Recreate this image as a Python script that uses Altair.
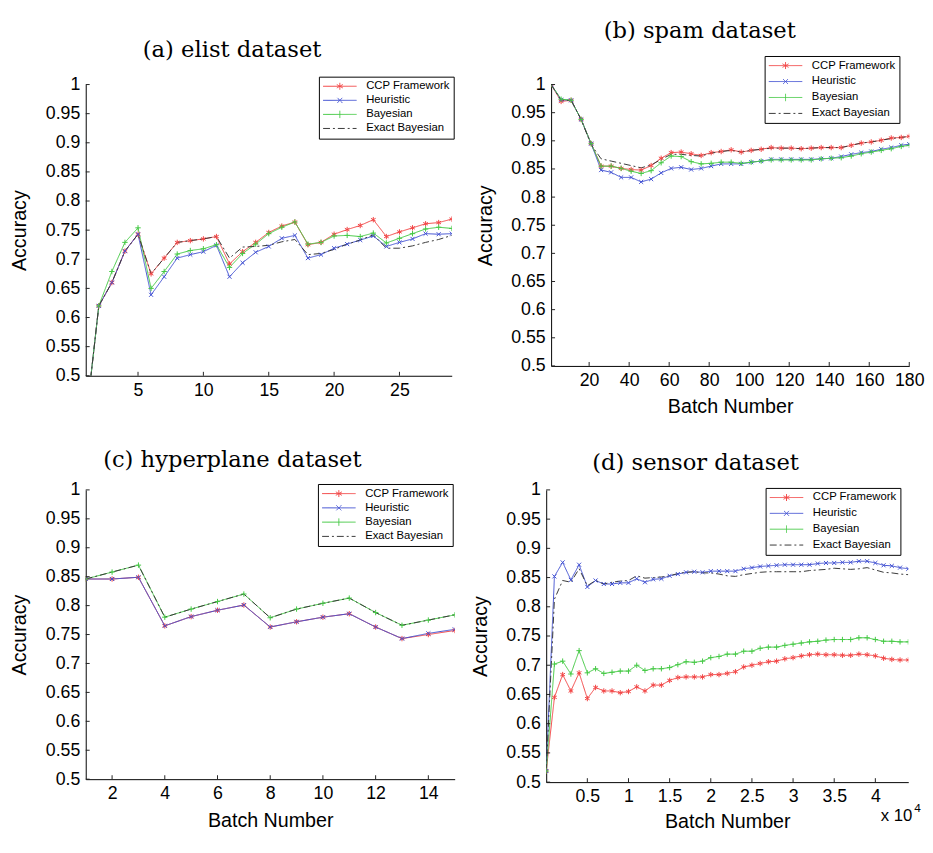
import altair as alt
import pandas as pd

SANS = "Liberation Sans"
SERIF = "DejaVu Serif"

SERIES = ["CCP Framework", "Heuristic", "Bayesian", "Exact Bayesian"]
COLORS = ["#f24444", "#4252d2", "#44c944", "#383838"]
DASHES = [[1, 0], [1, 0], [1, 0], [7, 3, 2, 3]]
Y_TICKS = [0.5, 0.55, 0.6, 0.65, 0.7, 0.75, 0.8, 0.85, 0.9, 0.95, 1.0]

# (a) elist dataset
A_X = list(range(1, 30))
A_CCP = [0.42, 0.620, 0.660, 0.714, 0.743, 0.675, 0.702, 0.729, 0.732, 0.735, 0.739, 0.692, 0.713, 0.729, 0.746,
         0.757, 0.764, 0.725, 0.729, 0.743, 0.751, 0.758, 0.768, 0.739, 0.747, 0.754, 0.761, 0.763, 0.769]
A_HEU = [0.42, 0.620, 0.660, 0.714, 0.743, 0.639, 0.670, 0.702, 0.708, 0.713, 0.724, 0.670, 0.694, 0.712, 0.722,
         0.736, 0.741, 0.702, 0.708, 0.719, 0.726, 0.733, 0.740, 0.722, 0.729, 0.735, 0.744, 0.743, 0.744]
A_BAY = [0.42, 0.620, 0.679, 0.729, 0.754, 0.650, 0.679, 0.709, 0.715, 0.718, 0.725, 0.686, 0.710, 0.726, 0.744,
         0.755, 0.764, 0.726, 0.729, 0.740, 0.741, 0.739, 0.745, 0.728, 0.736, 0.744, 0.752, 0.755, 0.753]
A_EXA = [0.42, 0.620, 0.660, 0.714, 0.743, 0.675, 0.702, 0.729, 0.732, 0.735, 0.739, 0.702, 0.721, 0.722, 0.724,
         0.730, 0.734, 0.708, 0.710, 0.717, 0.726, 0.733, 0.742, 0.719, 0.719, 0.723, 0.729, 0.734, 0.741]
A_XTICKS = [5, 10, 15, 20, 25]

# (b) spam dataset
B_X = list(range(1, 177, 5)) + [180]
B_CCP = [1.0, 0.970, 0.972, 0.938, 0.895, 0.855, 0.855, 0.851, 0.849, 0.848, 0.856, 0.869, 0.879, 0.880, 0.877,
         0.874, 0.879, 0.881, 0.884, 0.880, 0.883, 0.885, 0.888, 0.887, 0.887, 0.886, 0.887, 0.888, 0.888, 0.888,
         0.892, 0.896, 0.898, 0.901, 0.905, 0.906, 0.908]
B_HEU = [1.0, 0.973, 0.972, 0.938, 0.895, 0.848, 0.844, 0.835, 0.835, 0.827, 0.832, 0.843, 0.851, 0.853, 0.849,
         0.851, 0.855, 0.859, 0.859, 0.859, 0.862, 0.864, 0.867, 0.867, 0.867, 0.867, 0.867, 0.868, 0.869, 0.872,
         0.876, 0.879, 0.881, 0.885, 0.888, 0.892, 0.894]
B_BAY = [1.0, 0.974, 0.972, 0.938, 0.895, 0.855, 0.855, 0.851, 0.846, 0.842, 0.847, 0.861, 0.873, 0.872, 0.863,
         0.859, 0.860, 0.862, 0.862, 0.860, 0.862, 0.864, 0.866, 0.866, 0.866, 0.866, 0.866, 0.868, 0.869, 0.870,
         0.873, 0.877, 0.880, 0.883, 0.886, 0.890, 0.892]
B_EXA = [1.0, 0.972, 0.972, 0.938, 0.893, 0.868, 0.864, 0.860, 0.856, 0.852, 0.857, 0.867, 0.876, 0.876, 0.874,
         0.873, 0.878, 0.881, 0.883, 0.880, 0.883, 0.885, 0.887, 0.887, 0.887, 0.886, 0.887, 0.888, 0.888, 0.888,
         0.892, 0.896, 0.898, 0.901, 0.904, 0.906, 0.908]
B_XTICKS = [20, 40, 60, 80, 100, 120, 140, 160, 180]

# (c) hyperplane dataset
C_X = list(range(1, 16))
C_CCP = [0.846, 0.846, 0.849, 0.765, 0.781, 0.792, 0.801, 0.763, 0.772, 0.780, 0.786, 0.763, 0.743, 0.750, 0.757]
C_HEU = [0.846, 0.846, 0.849, 0.765, 0.781, 0.792, 0.801, 0.763, 0.772, 0.780, 0.786, 0.763, 0.743, 0.752, 0.759]
C_BAY = [0.846, 0.858, 0.870, 0.780, 0.794, 0.807, 0.820, 0.779, 0.794, 0.804, 0.813, 0.788, 0.766, 0.775, 0.784]
C_EXA = [0.846, 0.858, 0.870, 0.780, 0.794, 0.807, 0.820, 0.779, 0.794, 0.804, 0.813, 0.788, 0.766, 0.775, 0.784]
C_XTICKS = [2, 4, 6, 8, 10, 12, 14]

# (d) sensor dataset
D_X = list(range(0, 45000, 1000))
D_CCP = [0.519, 0.645, 0.684, 0.656, 0.687, 0.643, 0.662, 0.656, 0.656, 0.653, 0.655, 0.663, 0.656, 0.666, 0.666,
         0.674, 0.679, 0.680, 0.680, 0.680, 0.684, 0.684, 0.686, 0.689, 0.697, 0.700, 0.703, 0.706, 0.707, 0.711,
         0.713, 0.716, 0.718, 0.719, 0.718, 0.718, 0.717, 0.717, 0.719, 0.718, 0.716, 0.712, 0.710, 0.709, 0.709]
D_HEU = [0.519, 0.852, 0.876, 0.846, 0.872, 0.834, 0.845, 0.839, 0.839, 0.841, 0.841, 0.848, 0.842, 0.847, 0.848,
         0.853, 0.856, 0.859, 0.860, 0.859, 0.861, 0.861, 0.861, 0.861, 0.865, 0.867, 0.869, 0.870, 0.871, 0.872,
         0.872, 0.872, 0.872, 0.874, 0.875, 0.875, 0.876, 0.876, 0.878, 0.878, 0.875, 0.871, 0.870, 0.867, 0.865]
D_BAY = [0.519, 0.702, 0.707, 0.685, 0.725, 0.687, 0.694, 0.686, 0.688, 0.690, 0.690, 0.700, 0.691, 0.694, 0.694,
         0.696, 0.701, 0.706, 0.705, 0.707, 0.713, 0.715, 0.719, 0.719, 0.724, 0.724, 0.729, 0.731, 0.731, 0.734,
         0.736, 0.738, 0.740, 0.741, 0.743, 0.744, 0.744, 0.744, 0.747, 0.747, 0.744, 0.741, 0.741, 0.740, 0.740]
D_EXA = [0.519, 0.813, 0.845, 0.842, 0.865, 0.836, 0.845, 0.839, 0.842, 0.844, 0.845, 0.853, 0.849, 0.850, 0.851,
         0.853, 0.857, 0.859, 0.860, 0.858, 0.858, 0.856, 0.853, 0.852, 0.855, 0.857, 0.859, 0.860, 0.860, 0.860,
         0.860, 0.860, 0.862, 0.863, 0.864, 0.866, 0.865, 0.864, 0.865, 0.867, 0.863, 0.859, 0.858, 0.856, 0.855]
D_XTICKS = [5000, 10000, 15000, 20000, 25000, 30000, 35000, 40000]

# marker glyphs (unit-size SVG paths)
MARKERS = [
    "M0,-1V1M-0.87,-0.5L0.87,0.5M-0.87,0.5L0.87,-0.5",
    "M-0.75,-0.75L0.75,0.75M-0.75,0.75L0.75,-0.75",
    "M-1,0H1M0,-1V1",
    "M-1,0H1",
]
LEG_LINE = "M-3.4,0H3.4"
LEG_SYMS = [
    LEG_LINE + "M0,-0.7V0.7M-0.61,-0.35L0.61,0.35M-0.61,0.35L0.61,-0.35",
    LEG_LINE + "M-0.5,-0.5L0.5,0.5M-0.5,0.5L0.5,-0.5",
    LEG_LINE + "M0,-0.75V0.75",
    LEG_LINE,
]
SYM_EXPR = (
    f"datum.value === '{SERIES[0]}' ? '{LEG_SYMS[0]}' : "
    f"datum.value === '{SERIES[1]}' ? '{LEG_SYMS[1]}' : "
    f"datum.value === '{SERIES[2]}' ? '{LEG_SYMS[2]}' : '{LEG_SYMS[3]}'"
)

AXIS = dict(domainColor="black", domainWidth=1, labelFont=SANS, labelFontSize=18, labelColor="black",
            titleFont=SANS, titleFontSize=20, titleFontWeight="normal", titleColor="black",
            ticks=False, grid=False, labelPadding=6, labelFlush=False, labelOverlap=False)


def long_df(xs, cols):
    rows = []
    for name, vals in zip(SERIES, cols):
        for xv, v in zip(xs, vals):
            rows.append({"x": xv, "acc": v, "series": name})
    return pd.DataFrame(rows)


def make_legend(lx, ly, rp):
    return alt.Legend(orient="none", legendX=lx, legendY=ly, title=None, direction="vertical",
                      strokeColor="black", fillColor="white", padding=4, cornerRadius=0,
                      labelFont=SANS, labelFontSize=11.5, labelColor="black", labelLimit=300,
                      symbolSize=100, symbolStrokeWidth=1, symbolOffset=11.5, labelOffset=21,
                      rowPadding=rp, symbolType={"expr": SYM_EXPR})


def panel(xs, cols, xdomain, xticks, width, height, title, title_offset, xtitle, xtitle_pad,
          lx, ly, rp, label_expr=None, extra=None):
    df = long_df(xs, cols)
    xaxis = dict(values=xticks, titlePadding=xtitle_pad, **AXIS)
    xaxis["title"] = xtitle
    if label_expr:
        xaxis["labelExpr"] = label_expr
    x = alt.X("x:Q", scale=alt.Scale(domain=xdomain, nice=False, zero=False), axis=alt.Axis(**xaxis))
    y = alt.Y("acc:Q", scale=alt.Scale(domain=[0.5, 1.0], nice=False, zero=False),
              axis=alt.Axis(values=Y_TICKS, format="~g", title="Accuracy", titlePadding=16, **AXIS))
    leg = make_legend(lx, ly, rp)
    color = alt.Color("series:N", scale=alt.Scale(domain=SERIES, range=COLORS), legend=leg)
    dash = alt.StrokeDash("series:N", scale=alt.Scale(domain=SERIES, range=DASHES), legend=leg)
    base = alt.Chart(df)
    lines = base.mark_line(strokeWidth=1, clip=True).encode(x=x, y=y, color=color, strokeDash=dash)
    points = base.transform_filter(alt.datum.series != "Exact Bayesian").mark_point(
        filled=False, size=30, strokeWidth=1, clip=True, opacity=1
    ).encode(x=x, y=y, color=color,
             shape=alt.Shape("series:N", scale=alt.Scale(domain=SERIES, range=MARKERS), legend=None))
    # inward tick marks drawn at the axis tick values
    yt = alt.Chart(pd.DataFrame({"acc": Y_TICKS})).mark_rule(color="#222", strokeWidth=1).encode(
        y=y, x=alt.value(0), x2=alt.value(4))
    xt = alt.Chart(pd.DataFrame({"x": xticks})).mark_rule(color="#222", strokeWidth=1).encode(
        x=x, y=alt.value(height), y2=alt.value(height - 4))
    layers = [lines, points, yt, xt]
    if extra:
        layers += extra
    return alt.layer(*layers).properties(
        width=width, height=height,
        title=alt.TitleParams(title, font=SERIF, fontSize=23, fontWeight="normal", color="black",
                              anchor="middle", frame="bounds", offset=title_offset),
    ).resolve_scale(shape="independent")


D_W, D_H = 368, 297
exp_main = alt.Chart(pd.DataFrame({"t": ["x 10"]})).mark_text(
    font=SANS, fontSize=17, align="left", baseline="alphabetic", color="black"
).encode(text="t:N", x=alt.value(D_W - 28), y=alt.value(D_H + 40))
exp_sup = alt.Chart(pd.DataFrame({"t": ["4"]})).mark_text(
    font=SANS, fontSize=12, align="left", baseline="alphabetic", color="black"
).encode(text="t:N", x=alt.value(D_W + 6), y=alt.value(D_H + 30))

pa = panel(A_X, [A_CCP, A_HEU, A_BAY, A_EXA], [1, 29], A_XTICKS, 372, 296,
           "(a) elist dataset", 14, None, 9, 237, -8, 1.3)
pb = panel(B_X, [B_CCP, B_HEU, B_BAY, B_EXA], [1, 180], B_XTICKS, 364, 286,
           "(b) spam dataset", 13, "Batch Number", 7, 217, -29, 3.2)
pc = panel(C_X, [C_CCP, C_HEU, C_BAY, C_EXA], [1, 15], C_XTICKS, 375, 294,
           "(c) hyperplane dataset", 9, "Batch Number", 8, 236, -6, 1.5)
pd_ = panel(D_X, [D_CCP, D_HEU, D_BAY, D_EXA], [0, 44000], D_XTICKS, D_W, D_H,
            "(d) sensor dataset", 6, "Batch Number", 6, 223, -2, 3.1,
            label_expr="datum.value / 10000", extra=[exp_main, exp_sup])

IND = dict(color="independent", strokeDash="independent", shape="independent")
top = alt.hconcat(pa, pb, spacing=20).resolve_scale(**IND).resolve_legend(color="independent", strokeDash="independent")
bottom = alt.hconcat(pc, pd_, spacing=15).resolve_scale(**IND).resolve_legend(color="independent", strokeDash="independent")
chart = alt.vconcat(top, bottom, spacing=34).resolve_scale(**IND).resolve_legend(
    color="independent", strokeDash="independent"
).properties(
    padding={"left": 1, "top": 5, "right": 0, "bottom": 0},
    background="white",
).configure_view(stroke=None)

chart.save("out.html", embed_options={"renderer": "svg", "actions": False})
